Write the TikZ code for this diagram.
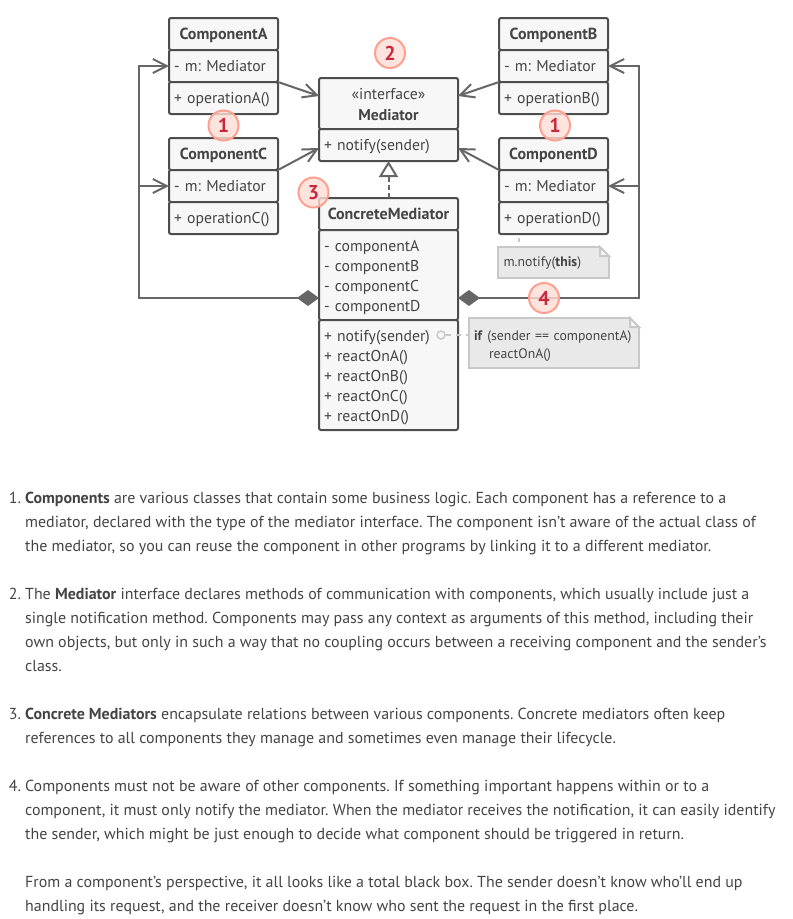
\documentclass[tikz,border=0pt]{standalone}
\usepackage{fontspec}
\setmainfont{PT Sans}
\usetikzlibrary{positioning,arrows.meta}
\frenchspacing
\newcommand{\topgap}{\rule{0pt}{18pt}}
\begin{document}
\begin{tikzpicture}[x=1pt,y=-1pt,
    classbase/.style={draw=boxline,fill=boxfill,line width=2pt,rounded corners=2pt,
      outer sep=0pt,minimum width=109pt,text=ink,font=\fontsize{15.7}{20}\selectfont},
    classhead/.style={classbase,minimum height=32pt,inner ysep=0pt,align=center,
      text height=11pt,text depth=1pt,font=\fontsize{16}{20}\selectfont\bfseries},
    classrow/.style={classbase,minimum height=32pt,inner ysep=0pt,inner xsep=5pt,
      text width=99pt,align=left,text height=11pt,text depth=1pt},
    classblock/.style={classbase,minimum width=139pt,inner ysep=0pt,inner xsep=5pt,
      text width=129pt,align=left},
    link/.style={draw=arrowline,line width=2pt},
    uses/.style={link,-{Straight Barb[length=14pt,width=14pt]}},
    holds/.style={link,{Diamond[length=22pt,width=16pt]}-{Straight Barb[length=14pt,width=14pt]}},
    notebox/.style={draw=noteline,fill=notefill,line width=2pt,outer sep=0pt,text=ink,
      inner xsep=5pt,anchor=north west,align=left,font=\fontsize{13.75}{18}\selectfont},
    notelink/.style={draw=noteline,line width=2pt},
    badge/.style={circle,draw=badgeline,fill=badgefill,fill opacity=.8,text opacity=1,
      line width=2pt,minimum size=30pt,inner sep=0pt,text=badgeink,
      font=\fontsize{20}{20}\selectfont\bfseries},
    para/.style={anchor=north west,inner sep=0pt,align=left,text=ink,
      font=\fontsize{15.93}{24}\selectfont}]
  \definecolor{ink}{HTML}{444444}
  \definecolor{boxline}{HTML}{4D4D4D}
  \definecolor{boxfill}{HTML}{F7F7F7}
  \definecolor{arrowline}{HTML}{666666}
  \definecolor{noteline}{HTML}{C8C8C8}
  \definecolor{notefill}{HTML}{E9E9E9}
  \definecolor{badgeline}{HTML}{FF9F8F}
  \definecolor{badgefill}{HTML}{FFDDD6}
  \definecolor{badgeink}{HTML}{C9273F}

  \useasboundingbox (0,0) rectangle (793,919);

  \foreach \name/\posx/\posy in {A/223.5/34,B/553.5/34,C/223.5/154,D/553.5/154}
  {
    \node[classhead] (head\name) at (\posx,\posy) {Component\name};
    \node[classrow,below=0pt of head\name] (field\name) {- m: Mediator};
    \node[classrow,below=0pt of field\name] (oper\name) {+ operation\name()};
  }

  \node[classhead,minimum width=139pt,minimum height=51pt,text height=,text depth=,
    font=\fontsize{15.7}{21.5}\selectfont] (medHead) at (388.5,103.5)
    {\rule{0pt}{19pt}«interface»\\\textbf{Mediator}\strut};
  \node[classrow,minimum width=139pt,text width=129pt,below=0pt of medHead] (medNotify)
    {+ notify(sender)};

  \node[classhead,minimum width=139pt] (cmHead) at (388.5,214) {ConcreteMediator};
  \node[classblock,minimum height=90pt,below=0pt of cmHead] (cmAttrs)
    {\topgap- componentA\\- componentB\\- componentC\\- componentD\strut};
  \node[classblock,minimum height=110pt,below=0pt of cmAttrs] (cmMethods)
    {\topgap+ notify(sender)\\+ reactOnA()\\+ reactOnB()\\+ reactOnC()\\+ reactOnD()\strut};

  \draw[uses] (operA.north east) -- ([yshift=7.5pt]medHead.west);
  \draw[uses] (headC.south east) -- ([yshift=-3pt]medNotify.west);
  \draw[uses] (operB.north west) -- ([yshift=7.5pt]medHead.east);
  \draw[uses] (headD.south west) -- ([yshift=-3pt]medNotify.east);

  \coordinate (busLeft) at (139,298);
  \coordinate (busRight) at (639,298);
  \draw[holds] ([yshift=-23pt]cmAttrs.west) -- (busLeft) |- (fieldA.west);
  \draw[uses] (busLeft |- fieldC.west) -- (fieldC.west);
  \draw[holds] ([yshift=-23pt]cmAttrs.east) -- (busRight) |- (fieldB.east);
  \draw[uses] (busRight |- fieldD.east) -- (fieldD.east);

  \draw[link,dash pattern=on 5pt off 3pt,-{Triangle[open,fill=white,length=16pt,width=19pt]}]
    (cmHead.north) -- (medNotify.south);

  \node[notebox,text width=100pt,inner xsep=5.5pt,minimum height=31pt,text height=10pt,text depth=3pt]
    (noteThis) at (498,247) {m.notify(\textbf{this})};
  \node[notebox,text width=160pt,minimum height=50pt] (noteIf) at (469,318)
    {\topgap\mbox{\textbf{if} (sender == componentA)}\\\hspace*{15pt}reactOnA()\strut};
  \foreach \note in {noteThis,noteIf}
  {
    \fill[white] ([xshift=-9pt,yshift=1pt]\note.north east) -- ([xshift=1pt,yshift=1pt]\note.north east)
      -- ([xshift=1pt,yshift=-9pt]\note.north east) -- cycle;
    \draw[noteline,fill=boxfill,line width=2pt] ([xshift=-9pt]\note.north east)
      -- ([yshift=-9pt]\note.north east) -- ([xshift=-9pt,yshift=-9pt]\note.north east) -- cycle;
  }
  \draw[notelink,dash pattern=on 4pt off 4pt,dash phase=4pt] ([xshift=-34.5pt]operD.south) -- ([xshift=21pt]noteThis.north west);
  \node[circle,draw=noteline,fill=boxfill,line width=1.5pt,minimum size=8pt,inner sep=0pt] (dotNotify) at (441,335) {};
  \draw[notelink,dash pattern=on 5pt off 5pt] (dotNotify) -- (dotNotify -| noteIf.west);

  \node[badge] (badgeLeft) at (223.5,125.5) {1};
  \node[badge] (badgeRight) at (555,125.5) {1};
  \node[badge] (badgeMed) at (390,53) {2};
  \node[badge] (badgeCm) at (313.5,192.5) {3};
  \node[badge] (badgeBus) at (544,298) {4};

  \node[para] (itemOne) at (25,486.2)
    {\strut\llap{1.\ }\textbf{Components} are various classes that contain some business logic. Each component has a reference to a\\
     mediator, declared with the type of the mediator interface. The component isn’t aware of the actual class of\\
     the mediator, so you can reuse the component in other programs by linking it to a different mediator.};
  \node[para] (itemTwo) at (25,582.2)
    {\strut\llap{2.\ }The \textbf{Mediator} interface declares methods of communication with components, which usually include just a\\
     single notification method. Components may pass any context as arguments of this method, including their\\
     own objects, but only in such a way that no coupling occurs between a receiving component and the sender’s\\
     class.};
  \node[para] (itemThree) at (25,702.2)
    {\strut\llap{3.\ }\textbf{Concrete Mediators} encapsulate relations between various components. Concrete mediators often keep\\
     references to all components they manage and sometimes even manage their lifecycle.};
  \node[para] (itemFour) at (25,774.2)
    {\strut\llap{4.\ }Components must not be aware of other components. If something important happens within or to a\\
     component, it must only notify the mediator. When the mediator receives the notification, it can easily identify\\
     the sender, which might be just enough to decide what component should be triggered in return.};
  \node[para] (itemFive) at (25,870.2)
    {\strut From a component’s perspective, it all looks like a total black box. The sender doesn’t know who’ll end up\\
     handling its request, and the receiver doesn’t know who sent the request in the first place.};
\end{tikzpicture}
\end{document}
